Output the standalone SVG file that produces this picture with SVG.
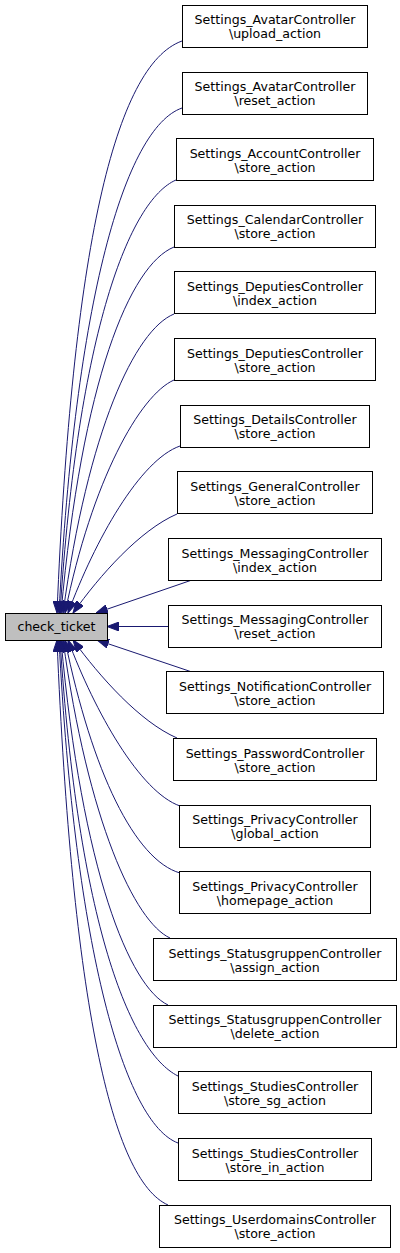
<svg xmlns="http://www.w3.org/2000/svg" width="400" height="1253" viewBox="0 0 400 1253">
<style>
.n rect{fill:#fff;stroke:#000;stroke-width:1}
#check_ticket rect{fill:#bfbfbf}
text{font-family:"DejaVu Sans",sans-serif;font-size:12.6px;fill:#000;text-anchor:middle}
.e path{fill:none;stroke:#191970;stroke-width:1;marker-end:url(#ah)}
</style>
<defs>
<marker id="ah" markerUnits="userSpaceOnUse" markerWidth="12" markerHeight="9" viewBox="0 0 12 9" refX="12" refY="4.5" orient="auto">
<path d="M0,0 L12,4.5 L0,9 z" fill="#191970" stroke="#191970" stroke-width="1"/>
</marker>
</defs>
<g id="edges" class="e">
<path d="M182,41 C115,65 72,250 57,613"/>
<path d="M182,108 C125,128 75,300 59,613"/>
<path d="M176,180 C130,200 78,330 60,613"/>
<path d="M174,247 C130,265 82,380 61,613"/>
<path d="M174,314 C135,330 88,430 63,613"/>
<path d="M174,380 C140,395 92,480 65,613"/>
<path d="M180,446 C140,460 95,540 68,613"/>
<path d="M177,514 C140,530 100,575 73,613"/>
<path d="M192,580 L96,613"/>
<path d="M168,626.5 L107,626.5"/>
<path d="M192,672 L97,640"/>
<path d="M177,738 C140,722 100,677 73,640"/>
<path d="M180,806 C140,792 95,712 68,640"/>
<path d="M180,873 C135,860 92,772 65,640"/>
<path d="M170,938 C135,922 88,822 63,640"/>
<path d="M168,1005 C130,987 82,872 61,640"/>
<path d="M178,1076 C130,1052 78,922 60,640"/>
<path d="M178,1143 C125,1123 75,952 59,640"/>
<path d="M168,1205 C112,1180 72,1002 57,640"/>
</g>
<g id="check_ticket" class="n"><rect x="5.5" y="613.5" width="102" height="27"/><text x="56.5" y="631">check_ticket</text></g>
<g id="n1" class="n"><rect x="182.5" y="5.5" width="185" height="42"/><text x="275" y="24">Settings_AvatarController</text><text x="275" y="38">\upload_action</text></g>
<g id="n2" class="n"><rect x="182.5" y="72.5" width="185" height="42"/><text x="275" y="91">Settings_AvatarController</text><text x="275" y="105">\reset_action</text></g>
<g id="n3" class="n"><rect x="176.5" y="138.5" width="197" height="42"/><text x="275" y="157.5">Settings_AccountController</text><text x="275" y="171.5">\store_action</text></g>
<g id="n4" class="n"><rect x="174.5" y="205.5" width="201" height="42"/><text x="275" y="224">Settings_CalendarController</text><text x="275" y="238">\store_action</text></g>
<g id="n5" class="n"><rect x="174.5" y="271.5" width="201" height="42"/><text x="275" y="290.5">Settings_DeputiesController</text><text x="275" y="304.5">\index_action</text></g>
<g id="n6" class="n"><rect x="174.5" y="338.5" width="201" height="42"/><text x="275" y="357.5">Settings_DeputiesController</text><text x="275" y="371.5">\store_action</text></g>
<g id="n7" class="n"><rect x="180.5" y="405.5" width="189" height="42"/><text x="275" y="424">Settings_DetailsController</text><text x="275" y="438">\store_action</text></g>
<g id="n8" class="n"><rect x="177.5" y="471.5" width="195" height="42"/><text x="275" y="490.5">Settings_GeneralController</text><text x="275" y="504.5">\store_action</text></g>
<g id="n9" class="n"><rect x="168.5" y="538.5" width="213" height="42"/><text x="275" y="557.5">Settings_MessagingController</text><text x="275" y="571.5">\index_action</text></g>
<g id="n10" class="n"><rect x="168.5" y="605.5" width="213" height="42"/><text x="275" y="624">Settings_MessagingController</text><text x="275" y="638">\reset_action</text></g>
<g id="n11" class="n"><rect x="166.5" y="671.5" width="217" height="42"/><text x="275" y="690.5">Settings_NotificationController</text><text x="275" y="704.5">\store_action</text></g>
<g id="n12" class="n"><rect x="173.5" y="738.5" width="203" height="42"/><text x="275" y="757.5">Settings_PasswordController</text><text x="275" y="771.5">\store_action</text></g>
<g id="n13" class="n"><rect x="179.5" y="805.5" width="191" height="42"/><text x="275" y="824">Settings_PrivacyController</text><text x="275" y="838">\global_action</text></g>
<g id="n14" class="n"><rect x="179.5" y="871.5" width="191" height="42"/><text x="275" y="890.5">Settings_PrivacyController</text><text x="275" y="904.5">\homepage_action</text></g>
<g id="n15" class="n"><rect x="153.5" y="938.5" width="243" height="42"/><text x="275" y="957.5">Settings_StatusgruppenController</text><text x="275" y="971.5">\assign_action</text></g>
<g id="n16" class="n"><rect x="153.5" y="1005.5" width="243" height="42"/><text x="275" y="1024">Settings_StatusgruppenController</text><text x="275" y="1038">\delete_action</text></g>
<g id="n17" class="n"><rect x="178.5" y="1071.5" width="193" height="42"/><text x="275" y="1090.5">Settings_StudiesController</text><text x="275" y="1104.5">\store_sg_action</text></g>
<g id="n18" class="n"><rect x="178.5" y="1138.5" width="193" height="42"/><text x="275" y="1157.5">Settings_StudiesController</text><text x="275" y="1171.5">\store_in_action</text></g>
<g id="n19" class="n"><rect x="159.5" y="1205.5" width="231" height="42"/><text x="275" y="1224">Settings_UserdomainsController</text><text x="275" y="1238">\store_action</text></g>
</svg>
